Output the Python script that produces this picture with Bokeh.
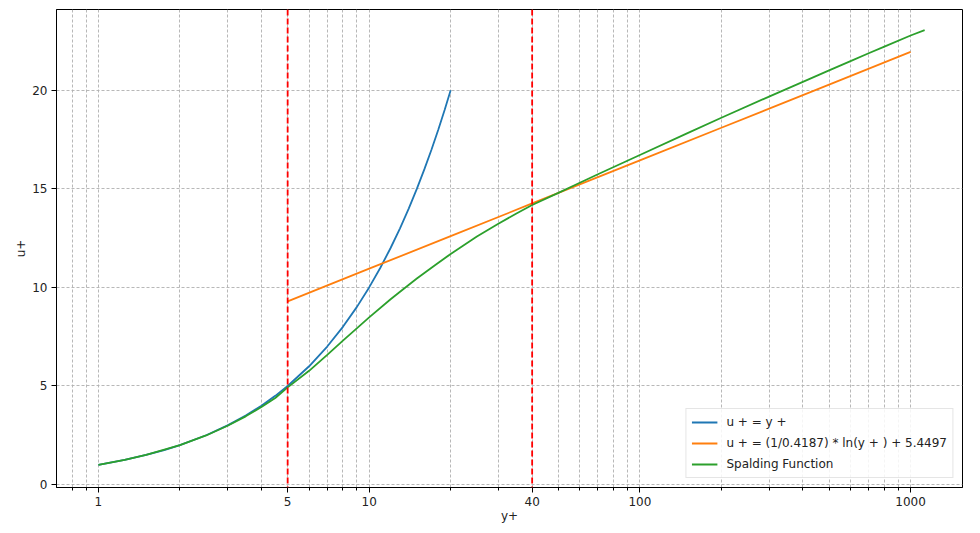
from bokeh.plotting import figure
from bokeh.models import FixedTicker, Span, Legend, LegendItem, Range1d
from bokeh.embed import file_html
from bokeh.resources import INLINE

# --- data ---
lin_yplus = [1, 1.25, 1.5, 1.75, 2, 2.5, 3, 3.5, 4, 4.5, 5, 6, 7, 8, 9, 10, 11, 12, 13, 14, 15, 16, 17, 18, 19, 20]
lin_uplus = [1, 1.25, 1.5, 1.75, 2, 2.5, 3, 3.5, 4, 4.5, 5, 6, 7, 8, 9, 10, 11, 12, 13, 14, 15, 16, 17, 18, 19, 20]

log_yplus = [5, 10, 20, 40, 100, 200, 500, 1000]
log_uplus = [9.29, 10.95, 12.6, 14.26, 16.45, 18.1, 20.29, 21.95]

spal_yplus = [1, 1.25, 1.5, 2, 2.5, 3, 3.5, 4, 4.5, 5, 6, 7, 8, 9, 10, 12, 13.25, 15, 17.5, 20, 25, 30, 35,
              40, 50, 60, 70, 100, 150, 200, 300, 400, 500, 600, 700, 800, 1000, 1127]
spal_uplus = [1.0, 1.25, 1.5, 2.0, 2.49, 2.98, 3.46, 3.93, 4.39, 4.93, 5.77, 6.58, 7.3, 7.92, 8.48, 9.4, 9.87, 10.45, 11.13, 11.7, 12.58, 13.23, 13.75,
              14.18, 14.8, 15.31, 15.74, 16.72, 17.83, 18.61, 19.68, 20.43, 21.01, 21.48, 21.88, 22.22, 22.78, 23.05]

vlines = [5, 40]

x_ticks = [1, 5, 10, 40, 100, 1000]
x_minor = [0.8, 0.9, 2, 3, 4, 6, 7, 8, 9, 20, 30, 50, 60, 70, 80, 90,
           200, 300, 400, 500, 600, 700, 800, 900]
y_ticks = [0, 5, 10, 15, 20]

labels = ["u + = y +", "u + = (1/0.4187) * ln(y + ) + 5.4497", "Spalding Function"]
colors = ["#1f77b4", "#ff7f0e", "#2ca02c"]

FONT = "DejaVu Sans"

p = figure(width=980, height=533, x_axis_type="log",
           x_range=Range1d(0.7, 1555), y_range=Range1d(-0.15, 24.1),
           output_backend="svg", toolbar_location=None,
           min_border_left=56, min_border_right=18, min_border_top=9, min_border_bottom=46)

p.outline_line_color = "black"
p.outline_line_alpha = 1
p.outline_line_width = 1
p.background_fill_color = "white"
p.border_fill_color = "white"

p.xaxis.ticker = FixedTicker(ticks=x_ticks, minor_ticks=x_minor)
p.yaxis.ticker = FixedTicker(ticks=y_ticks)
p.xaxis.major_label_overrides = {t: str(t) for t in x_ticks}
p.xaxis.axis_label = "y+"
p.yaxis.axis_label = "u+"

for ax in (p.xaxis, p.yaxis):
    ax.axis_label_text_font = FONT
    ax.axis_label_text_font_style = "normal"
    ax.axis_label_text_font_size = "12px"
    ax.major_label_text_font = FONT
    ax.major_label_text_font_size = "12px"
    ax.major_label_text_color = "#222222"
    ax.axis_label_text_color = "#222222"
    ax.axis_line_color = "black"
    ax.major_tick_line_color = "black"
    ax.minor_tick_line_color = "black"
    ax.major_tick_in = 0
    ax.major_tick_out = 5
    ax.minor_tick_in = 0
    ax.minor_tick_out = 3
    ax.major_label_standoff = 4
p.xaxis.axis_label_standoff = 0
p.yaxis.axis_label_standoff = 1
p.yaxis.minor_tick_line_color = None

p.xgrid.grid_line_color = "#b0b0b0"
p.xgrid.grid_line_dash = "3 2"
p.xgrid.grid_line_alpha = 0.9
p.xgrid.minor_grid_line_color = "#b0b0b0"
p.xgrid.minor_grid_line_dash = "3 2"
p.xgrid.minor_grid_line_alpha = 0.9
p.ygrid.grid_line_color = "#b0b0b0"
p.ygrid.grid_line_dash = "3 2"
p.ygrid.grid_line_alpha = 0.9

r1 = p.line(lin_yplus, lin_uplus, line_color=colors[0], line_width=1.8)
r2 = p.line(log_yplus, log_uplus, line_color=colors[1], line_width=1.8)
r3 = p.line(spal_yplus, spal_uplus, line_color=colors[2], line_width=1.8)

for xv in vlines:
    p.add_layout(Span(location=xv, dimension="height", line_color="red",
                      line_width=1.8, line_dash="6 3"))

legend = Legend(items=[LegendItem(label=labels[0], renderers=[r1]),
                       LegendItem(label=labels[1], renderers=[r2]),
                       LegendItem(label=labels[2], renderers=[r3])],
                location="bottom_right")
legend.label_text_font = FONT
legend.label_text_font_size = "12px"
legend.label_text_color = "#222222"
legend.glyph_width = 26
legend.glyph_height = 16
legend.label_height = 16
legend.spacing = 5
legend.padding = 5
legend.margin = 9
legend.label_standoff = 9
legend.border_line_color = "#cccccc"
legend.border_line_width = 1
legend.background_fill_alpha = 0.85
p.add_layout(legend)

open("out.html", "w").write(file_html(p, INLINE))
